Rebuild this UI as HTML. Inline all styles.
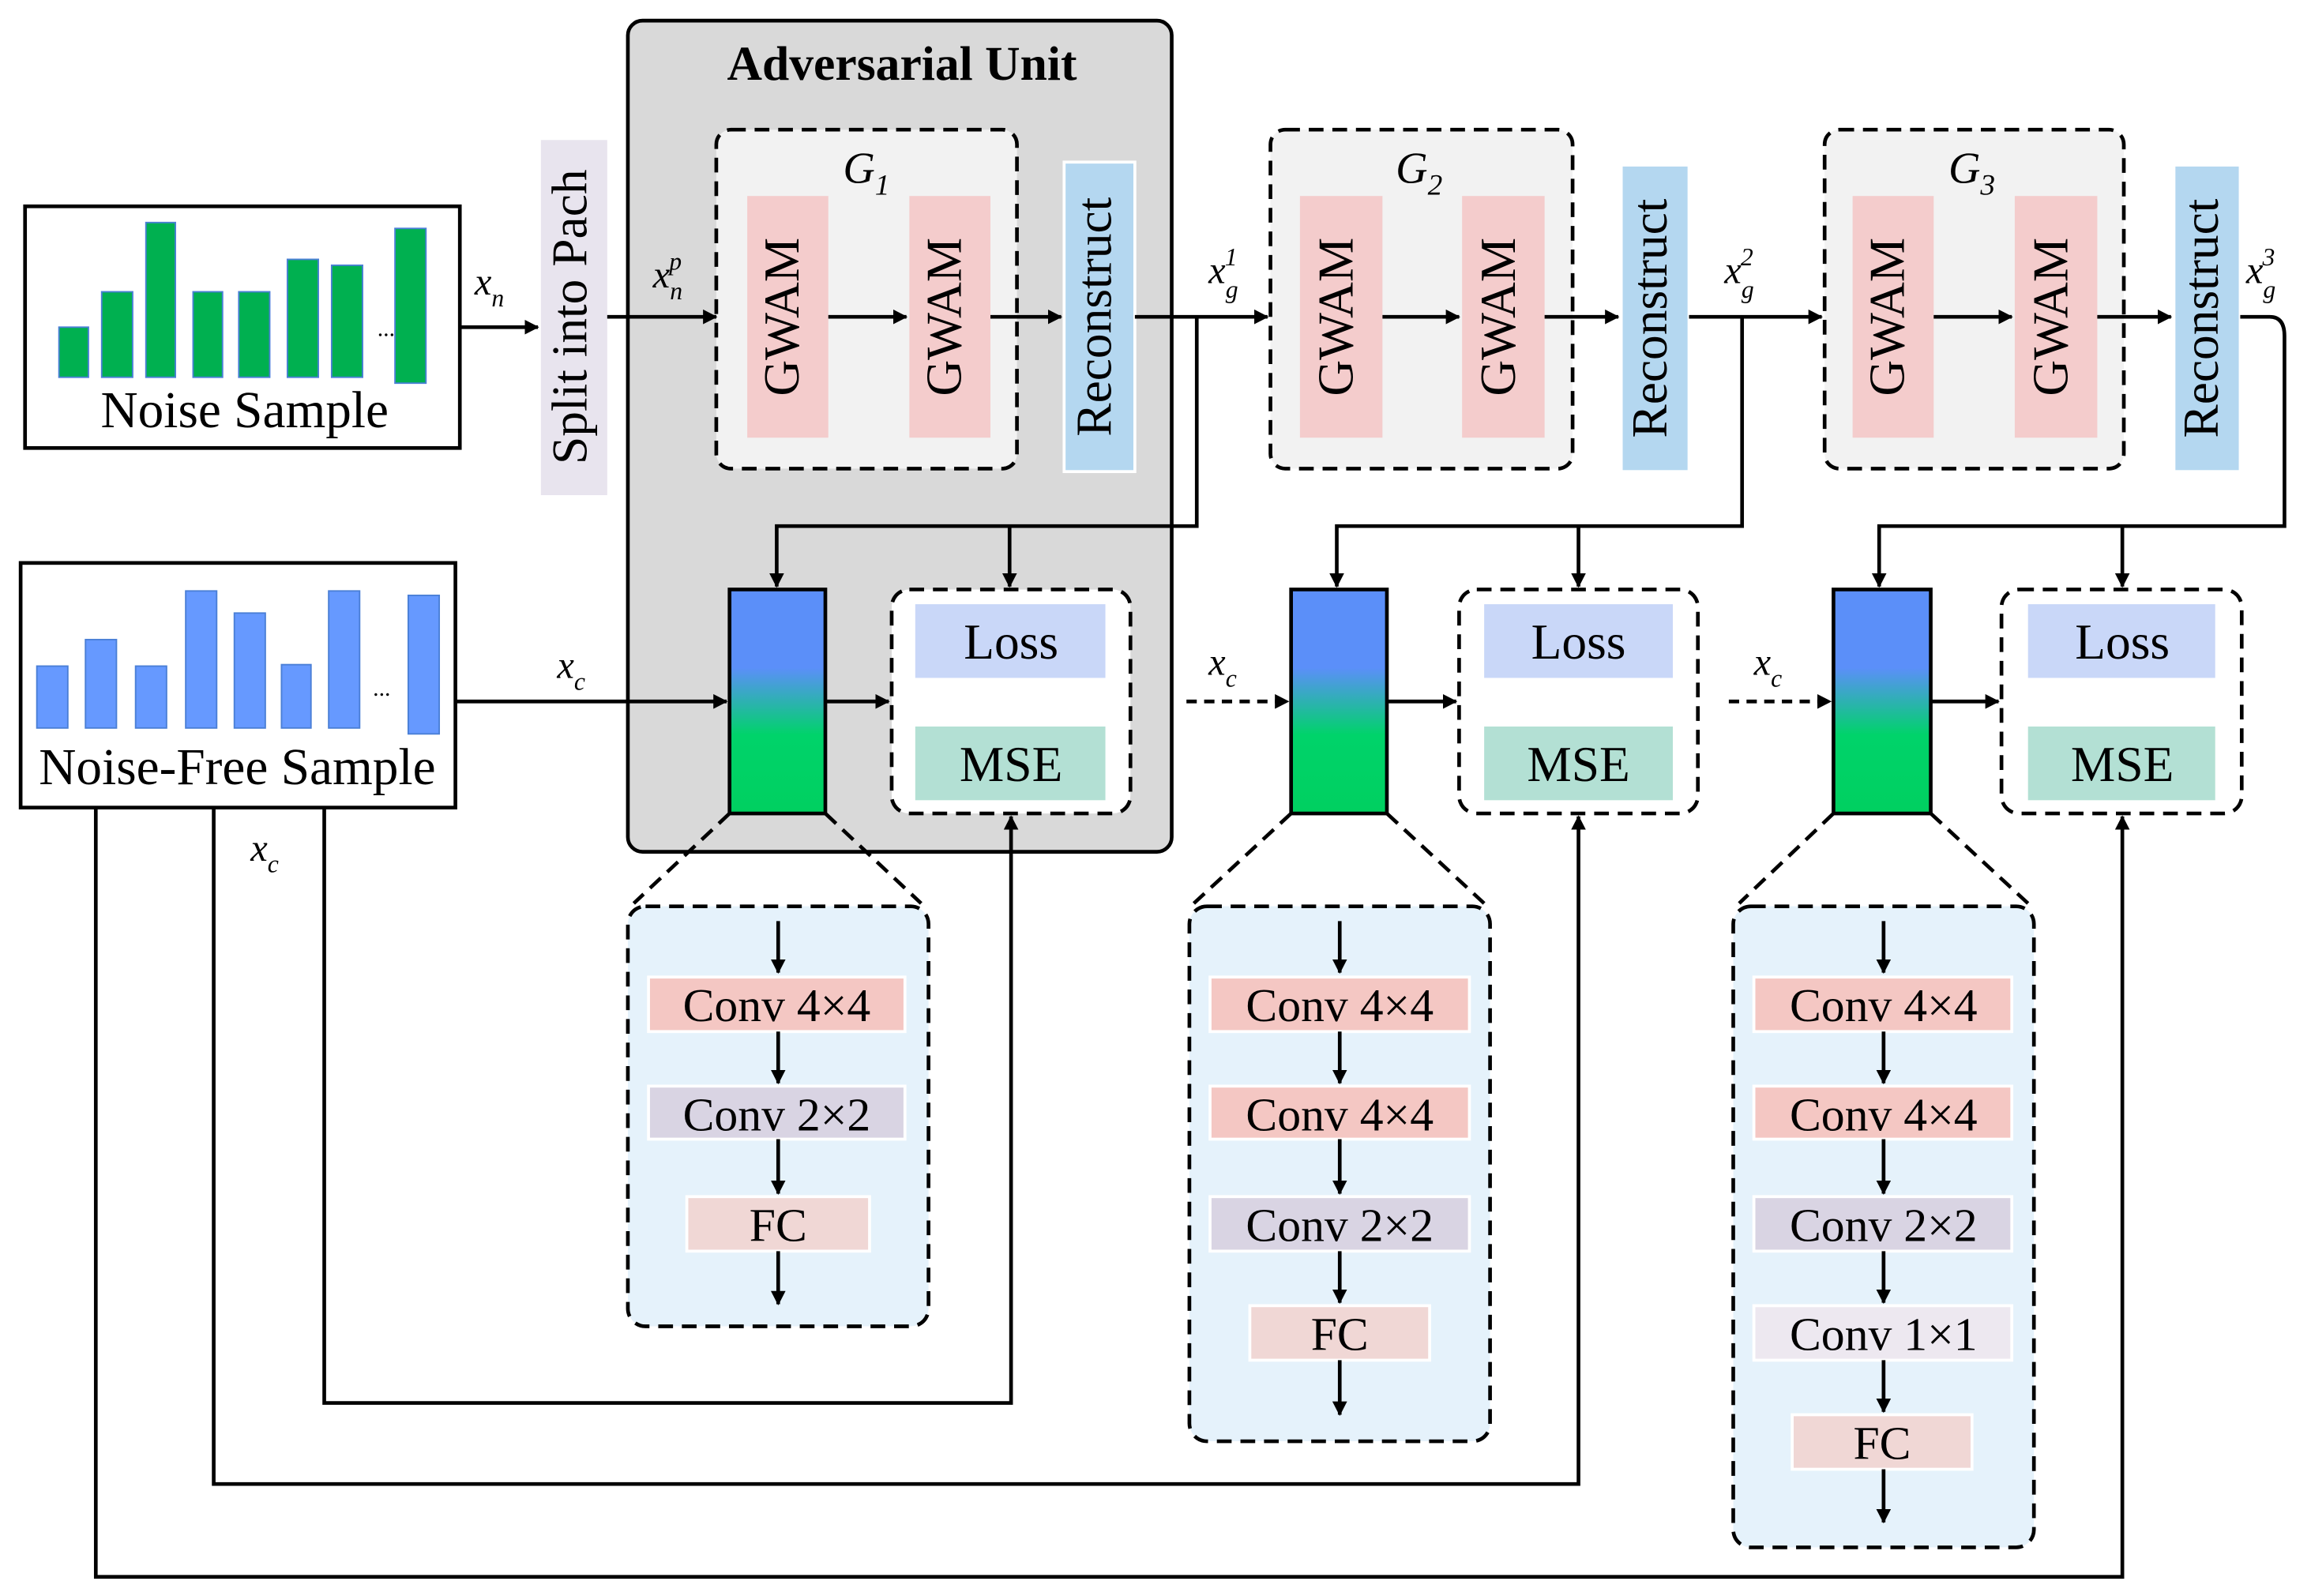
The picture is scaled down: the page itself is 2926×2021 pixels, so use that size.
<!DOCTYPE html>
<html><head><meta charset="utf-8"><style>html,body{margin:0;padding:0;background:#fff}svg{display:block}text{font-family:"Liberation Serif",serif;fill:#000}</style></head><body>
<svg width="2926" height="2021" viewBox="0 0 1568 1083" preserveAspectRatio="none" xmlns="http://www.w3.org/2000/svg">
<defs>
<marker id="a" markerWidth="10" markerHeight="10" refX="9" refY="5" orient="auto" markerUnits="userSpaceOnUse"><path d="M0,0 L14,5 L0,10 z" transform="scale(0.7,1)" fill="#000"/></marker>
<linearGradient id="g" x1="0" y1="0" x2="0" y2="1"><stop offset="0" stop-color="#5b8ff9"/><stop offset="0.35" stop-color="#5b8ff9"/><stop offset="0.65" stop-color="#00d36a"/><stop offset="1" stop-color="#00d060"/></linearGradient>
</defs>
<g stroke="#000" stroke-width="2.5" fill="none">
<rect x="17" y="140" width="295" height="164" fill="#fff"/>
<rect x="426" y="14" width="369" height="564" rx="10" fill="#d9d9d9"/>
<rect x="367" y="95" width="45" height="241" fill="#e8e4ee" stroke="none"/>
<rect x="14" y="382" width="295" height="166" fill="#fff"/>
</g>
<g fill="#00b050" stroke="#4a7fd6" stroke-width="1">
<rect x="40" y="222" width="20" height="34"/><rect x="69" y="198" width="21" height="58"/><rect x="99" y="151" width="20" height="105"/><rect x="131" y="198" width="20" height="58"/><rect x="162" y="198" width="21" height="58"/><rect x="195" y="176" width="21" height="80"/><rect x="225" y="180" width="21" height="76"/><rect x="268" y="155" width="21" height="105"/>
</g>
<g fill="#6699ff" stroke="#4a7fd6" stroke-width="1">
<rect x="25" y="452" width="21" height="42"/><rect x="58" y="434" width="21" height="60"/><rect x="92" y="452" width="21" height="42"/><rect x="126" y="401" width="21" height="93"/><rect x="159" y="416" width="21" height="78"/><rect x="191" y="451" width="20" height="43"/><rect x="223" y="401" width="21" height="93"/><rect x="277" y="404" width="21" height="94"/>
</g>
<text x="256" y="228" font-size="16">...</text><text x="253" y="472" font-size="16">...</text>
<text x="166" y="290" font-size="35" text-anchor="middle">Noise Sample</text>
<text x="161" y="532" font-size="35" text-anchor="middle">Noise-Free Sample</text>
<text x="390" y="215" font-size="34" text-anchor="middle" dominant-baseline="middle" transform="rotate(-90 390 215)">Split into Pach</text>
<text x="612" y="54" font-size="33" font-weight="bold" text-anchor="middle">Adversarial Unit</text>

<g stroke="#000" stroke-width="2.5" stroke-dasharray="10,6" fill="#f2f2f2">
<rect x="486" y="88" width="204" height="230" rx="10"/>
<rect x="862" y="88" width="205" height="230" rx="10"/>
<rect x="1238" y="88" width="203" height="230" rx="10"/>
</g>
<g fill="#f4cccc">
<rect x="507" y="133" width="55" height="164"/><rect x="617" y="133" width="55" height="164"/>
<rect x="882" y="133" width="56" height="164"/><rect x="992" y="133" width="56" height="164"/>
<rect x="1257" y="133" width="55" height="164"/><rect x="1367" y="133" width="56" height="164"/>
</g>
<g fill="#b4d7f0" stroke="#fff" stroke-width="2">
<rect x="722" y="110" width="48" height="210"/><rect x="1100" y="112" width="46" height="208"/><rect x="1475" y="112" width="45" height="208"/>
</g>
<g font-size="34" text-anchor="middle" dominant-baseline="middle">
<text x="534" y="215" transform="rotate(-90 534 215)">GWAM</text>
<text x="644" y="215" transform="rotate(-90 644 215)">GWAM</text>
<text x="910" y="215" transform="rotate(-90 910 215)">GWAM</text>
<text x="1020" y="215" transform="rotate(-90 1020 215)">GWAM</text>
<text x="1284" y="215" transform="rotate(-90 1284 215)">GWAM</text>
<text x="1395" y="215" transform="rotate(-90 1395 215)">GWAM</text>
<text x="746" y="215" transform="rotate(-90 746 215)">Reconstruct</text>
<text x="1123" y="216" transform="rotate(-90 1123 216)">Reconstruct</text>
<text x="1497" y="216" transform="rotate(-90 1497 216)">Reconstruct</text>
</g>
<g font-size="30" font-style="italic">
<text x="572" y="124">G<tspan font-size="20" dy="8">1</tspan></text>
<text x="947" y="124">G<tspan font-size="20" dy="8">2</tspan></text>
<text x="1322" y="124">G<tspan font-size="20" dy="8">3</tspan></text>
<text x="500" y="485">D<tspan font-size="20" dy="8">1</tspan></text>
<text x="890" y="485">D<tspan font-size="20" dy="8">2</tspan></text>
<text x="1259" y="485">D<tspan font-size="20" dy="8">3</tspan></text>
</g>
<g font-size="26" font-style="italic">
<text x="322" y="200">x<tspan font-size="17" dy="8">n</tspan></text>
<text x="443" y="195">x<tspan font-size="17" dy="8">n</tspan><tspan font-size="17" dx="-9" dy="-20">p</tspan></text>
<text x="820" y="192">x<tspan font-size="17" dy="10">g</tspan><tspan font-size="17" dx="-9" dy="-22">1</tspan></text>
<text x="1170" y="192">x<tspan font-size="17" dy="10">g</tspan><tspan font-size="17" dx="-9" dy="-22">2</tspan></text>
<text x="1524" y="192">x<tspan font-size="17" dy="10">g</tspan><tspan font-size="17" dx="-9" dy="-22">3</tspan></text>
<text x="378" y="460">x<tspan font-size="17" dy="8">c</tspan></text>
<text x="820" y="458">x<tspan font-size="17" dy="8">c</tspan></text>
<text x="1190" y="458">x<tspan font-size="17" dy="8">c</tspan></text>
<text x="170" y="584">x<tspan font-size="17" dy="8">c</tspan></text>
</g>

<g stroke="#000" stroke-width="2.5">
<rect x="495" y="400" width="65" height="152" fill="url(#g)"/>
<rect x="876" y="400" width="65" height="152" fill="url(#g)"/>
<rect x="1244" y="400" width="66" height="152" fill="url(#g)"/>
</g>
<g stroke="#000" stroke-width="2.5" stroke-dasharray="10,6" fill="#fff">
<rect x="605" y="400" width="162" height="152" rx="12"/>
<rect x="990" y="400" width="162" height="152" rx="12"/>
<rect x="1358" y="400" width="163" height="152" rx="12"/>
<rect x="426" y="615" width="204" height="285" rx="12" fill="#e5f2fb"/>
<rect x="807" y="615" width="204" height="363" rx="12" fill="#e5f2fb"/>
<rect x="1176" y="615" width="204" height="435" rx="12" fill="#e5f2fb"/>
<path d="M495,552 L430,613 M560,552 L625,613 M876,552 L810,613 M941,552 L1007,613 M1244,552 L1180,613 M1310,552 L1376,613" fill="none"/>
</g>
<g>
<rect x="621" y="410" width="129" height="50" fill="#c9d7f8"/><rect x="621" y="493" width="129" height="50" fill="#b3e0d4"/>
<rect x="1007" y="410" width="128" height="50" fill="#c9d7f8"/><rect x="1007" y="493" width="128" height="50" fill="#b3e0d4"/>
<rect x="1376" y="410" width="127" height="50" fill="#c9d7f8"/><rect x="1376" y="493" width="127" height="50" fill="#b3e0d4"/>
</g>
<g font-size="34" text-anchor="middle">
<text x="686" y="447">Loss</text><text x="686" y="530">MSE</text>
<text x="1071" y="447">Loss</text><text x="1071" y="530">MSE</text>
<text x="1440" y="447">Loss</text><text x="1440" y="530">MSE</text>
</g>
<g stroke="#fff" stroke-width="2">
<rect x="440" y="663" width="174" height="37" fill="#f4c7c3"/>
<rect x="440" y="737" width="174" height="36" fill="#d9d4e3"/>
<rect x="466" y="812" width="124" height="37" fill="#f0d7d5"/>
<rect x="821" y="663" width="176" height="37" fill="#f4c7c3"/>
<rect x="821" y="737" width="176" height="36" fill="#f4c7c3"/>
<rect x="821" y="812" width="176" height="37" fill="#d9d4e3"/>
<rect x="848" y="886" width="122" height="37" fill="#f0d7d5"/>
<rect x="1190" y="663" width="175" height="37" fill="#f4c7c3"/>
<rect x="1190" y="737" width="175" height="36" fill="#f4c7c3"/>
<rect x="1190" y="812" width="175" height="37" fill="#d9d4e3"/>
<rect x="1190" y="886" width="175" height="37" fill="#ede8f0"/>
<rect x="1216" y="960" width="122" height="37" fill="#f0d7d5"/>
</g>
<g font-size="32" text-anchor="middle">
<text x="527" y="693">Conv 4×4</text><text x="527" y="767">Conv 2×2</text><text x="528" y="842">FC</text>
<text x="909" y="693">Conv 4×4</text><text x="909" y="767">Conv 4×4</text><text x="909" y="842">Conv 2×2</text><text x="909" y="916">FC</text>
<text x="1278" y="693">Conv 4×4</text><text x="1278" y="767">Conv 4×4</text><text x="1278" y="842">Conv 2×2</text><text x="1278" y="916">Conv 1×1</text><text x="1277" y="990">FC</text>
</g>
<g stroke="#000" stroke-width="2.5" fill="none" marker-end="url(#a)">
<path d="M312,222 H365"/><path d="M412,215 H486"/><path d="M562,215 H615"/><path d="M672,215 H720"/><path d="M770,215 H860"/>
<path d="M938,215 H990"/><path d="M1048,215 H1098"/><path d="M1146,215 H1236"/>
<path d="M1312,215 H1365"/><path d="M1423,215 H1473"/>
<path d="M812,215 V357 H527 V398"/><path d="M685,357 V398"/>
<path d="M1182,215 V357 H907 V398"/><path d="M1071,357 V398"/>
<path d="M1520,215 H1540 Q1550,215 1550,228 V357 H1275 V398"/><path d="M1440,357 V398"/>
<path d="M309,476 H493"/><path d="M560,476 H603"/><path d="M941,476 H988"/><path d="M1310,476 H1356"/>
<path d="M805,476 H874" stroke-dasharray="7,5"/><path d="M1173,476 H1242" stroke-dasharray="7,5"/>
<path d="M220,548 V952 H686 V554"/><path d="M145,548 V1007 H1071 V554"/><path d="M65,548 V1070 H1440 V554"/>
<path d="M528,625 V660"/><path d="M528,700 V735"/><path d="M528,773 V810"/><path d="M528,849 V885"/>
<path d="M909,625 V660"/><path d="M909,700 V735"/><path d="M909,773 V810"/><path d="M909,849 V884"/><path d="M909,923 V960"/>
<path d="M1278,625 V660"/><path d="M1278,700 V735"/><path d="M1278,773 V810"/><path d="M1278,849 V884"/><path d="M1278,923 V958"/><path d="M1278,997 V1033"/>
</g>
</svg>
</body></html>
